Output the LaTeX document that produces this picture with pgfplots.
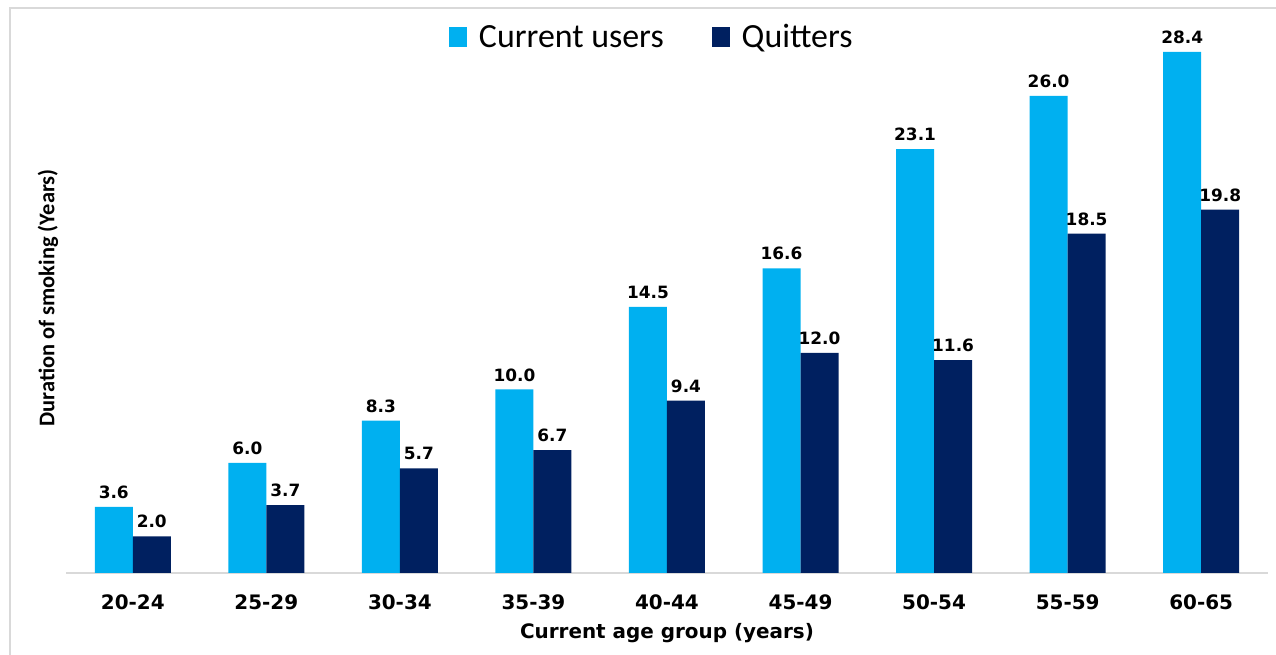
\documentclass[border=0pt]{standalone}
\usepackage{pgfplots}
\pgfplotsset{compat=1.18}
\usepackage{fontspec}
\setmainfont{DejaVu Sans}
\newfontfamily\calfont{Carlito}
\definecolor{cu}{HTML}{00B0F0}
\definecolor{qu}{HTML}{002060}
\definecolor{fr}{HTML}{D9D9D9}
\begin{document}
\begin{tikzpicture}[x=1bp,y=1bp]
\useasboundingbox (0,0) rectangle (1276,655);
\draw[fr, line width=1.5bp] (10,0) -- (10,647) -- (1276,647);
\begin{axis}[
  at={(66bp,82bp)}, anchor=south west,
  scale only axis, width=1202bp, height=550.5bp,
  xmin=-0.5, xmax=8.5, ymin=0, ymax=30,
  clip=false,
  ybar=0pt, bar width=38bp,
  axis x line*=bottom, axis y line*=left,
  x axis line style={fr, line width=1.5bp, -},
  y axis line style={draw=none},
  ytick=\empty,
  xtick={0,1,2,3,4,5,6,7,8},
  xticklabels={20-24,25-29,30-34,35-39,40-44,45-49,50-54,55-59,60-65},
  major tick length=0pt,
  xticklabel style={font=\bfseries\fontsize{20}{24}\selectfont, anchor=center, yshift=-29bp},
  xlabel={Current age group (years)},
  xlabel style={font=\bfseries\fontsize{20}{24}\selectfont, at={(axis description cs:0.5,0)}, anchor=center, yshift=-60bp},
  ylabel={Duration of smoking (Years)},
  ylabel style={font=\calfont\bfseries\fontsize{22.5}{26}\selectfont, at={(axis description cs:-0.015,0.5)}, anchor=center, rotate=0},
  /pgf/number format/assume math mode=true,
  nodes near coords={\pgfmathprintnumber[fixed,fixed zerofill,precision=1]{\pgfplotspointmeta}},
  nodes near coords style={font=\bfseries\fontsize{17}{20}\selectfont, text=black, anchor=south, inner sep=0pt, yshift=8bp},
  legend style={at={(axis description cs:0.489,0.974)}, anchor=center, draw=none, fill=none,
    legend columns=2, font=\calfont\fontsize{34}{40}\selectfont,
    /tikz/every odd column/.append style={column sep=6bp},
    /tikz/every even column/.append style={column sep=42bp},
    nodes={inner xsep=6bp}},
  legend image code/.code={\fill[#1] (0bp,-10bp) rectangle (18bp,10bp);},
]
\addplot[fill=cu, draw=none] coordinates {(0,3.6) (1,6.0) (2,8.3) (3,10.0) (4,14.5) (5,16.6) (6,23.1) (7,26.0) (8,28.4)};
\addplot[fill=qu, draw=none] coordinates {(0,2.0) (1,3.7) (2,5.7) (3,6.7) (4,9.4) (5,12.0) (6,11.6) (7,18.5) (8,19.8)};
\legend{Current users, Quitters}
\end{axis}
\end{tikzpicture}
\end{document}
